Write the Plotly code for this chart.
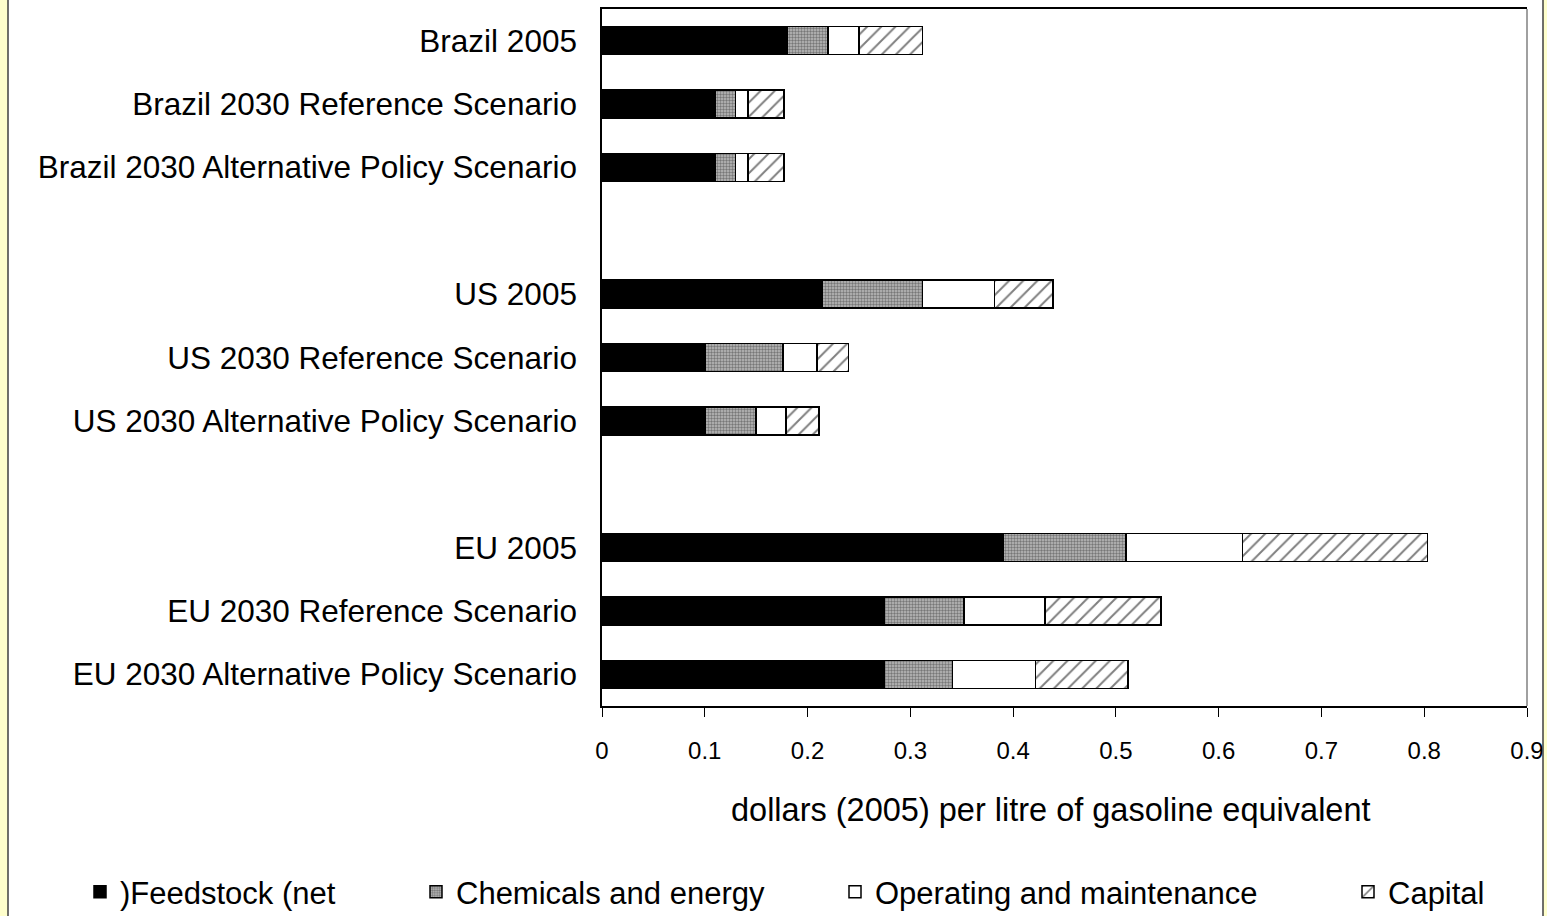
import plotly.graph_objects as go

# Production cost of ethanol, dollars (2005) per litre of gasoline equivalent
groups = ["Brazil", "US", "EU"]
scenarios = ["2005", "2030 Reference Scenario", "2030 Alternative Policy Scenario"]

feedstock = [0.18, 0.11, 0.11, 0.214, 0.10, 0.10, 0.39, 0.275, 0.275]
chemicals = [0.04, 0.02, 0.02, 0.098, 0.076, 0.05, 0.12, 0.077, 0.066]
operating = [0.03, 0.012, 0.012, 0.07, 0.033, 0.029, 0.113, 0.079, 0.081]
capital = [0.062, 0.035, 0.035, 0.057, 0.031, 0.032, 0.18, 0.113, 0.09]

series_names = [")Feedstock (net", "Chemicals and energy", "Operating and maintenance", "Capital"]
x_ticks = [0, 0.1, 0.2, 0.3, 0.4, 0.5, 0.6, 0.7, 0.8, 0.9]
x_tick_text = ["0", "0.1", "0.2", "0.3", "0.4", "0.5", "0.6", "0.7", "0.8", "0.9"]
x_title = "dollars (2005) per litre of gasoline equivalent"

labels = [f"{g} {s}" for g in groups for s in scenarios]
# one empty slot between country groups
slots = [gi * (len(scenarios) + 1) + si for gi in range(len(groups)) for si in range(len(scenarios))]

W, H = 1547, 916
L, R, T, B = 602, 20, 9, 210
pw, ph = W - L - R, H - T - B


def px_x(p):
    return (p - L) / pw


def px_y(q):
    return (H - B - q) / ph


FONT = "Liberation Sans, Arial, sans-serif"
line = dict(color="black", width=1.5)

styles = [
    dict(color="black", line=line),
    dict(color="#999999", line=line,
         pattern=dict(shape=".", size=3, solidity=0.5, fgcolor="#333333", bgcolor="#bbbbbb")),
    dict(color="white", line=line),
    dict(color="white", line=line,
         pattern=dict(shape="/", size=10, solidity=0.2, fgcolor="black", bgcolor="white")),
]

fig = go.Figure()
for i, (name, vals) in enumerate(zip(series_names, [feedstock, chemicals, operating, capital])):
    fig.add_trace(go.Bar(
        y=slots, x=vals, name=name, orientation="h", width=0.44,
        marker=styles[i], legend="legend" if i == 0 else f"legend{i + 1}",
    ))

legend_px = [80, 416, 835, 1348]
legend_common = dict(orientation="h", yanchor="middle", xanchor="left",
                     y=px_y(892), bgcolor="rgba(0,0,0,0)",
                     font=dict(family=FONT, size=31, color="black"))
leg = {}
for i, p in enumerate(legend_px):
    key = "legend" if i == 0 else f"legend{i + 1}"
    leg[key] = dict(x=px_x(p), **legend_common)

fig.update_layout(
    width=W, height=H,
    margin=dict(l=L, r=R, t=T, b=B, autoexpand=False),
    barmode="stack",
    paper_bgcolor="white", plot_bgcolor="white",
    font=dict(family=FONT, color="black"),
    showlegend=True,
    **leg,
    xaxis=dict(
        range=[0, 0.9], tickvals=x_ticks, ticktext=x_tick_text,
        showgrid=False, zeroline=False,
        showline=True, linecolor="black", linewidth=1.5, mirror=True,
        ticks="outside", ticklen=9, tickcolor="black", tickwidth=1.2,
        tickfont=dict(family=FONT, size=24, color="black"),
        ticklabelstandoff=13,
    ),
    yaxis=dict(
        range=[len(slots) + len(groups) - 1.5, -0.5],
        tickvals=slots, ticktext=labels,
        showgrid=False, zeroline=False,
        showline=True, linecolor="black", linewidth=1.5,
        ticks="", ticklabelstandoff=17,
        tickfont=dict(family=FONT, size=31.5, color="black"),
    ),
    annotations=[dict(
        text=x_title, xref="paper", yref="paper", x=px_x(1051), y=px_y(810),
        xanchor="center", yanchor="middle", showarrow=False,
        font=dict(family=FONT, size=32.5, color="black"),
    )],
    shapes=[
        # right edge of the plot area
        dict(type="line", xref="paper", yref="paper", x0=1, x1=1, y0=0, y1=1,
             line=dict(color="#808080", width=1.5)),
        # pale yellow page frame
        dict(type="rect", xref="paper", yref="paper", x0=px_x(0), x1=px_x(8),
             y0=px_y(H), y1=px_y(0), fillcolor="#FFFFCC", line=dict(width=0), layer="below"),
        dict(type="rect", xref="paper", yref="paper", x0=px_x(1543), x1=px_x(W),
             y0=px_y(H), y1=px_y(0), fillcolor="#FFFFCC", line=dict(width=0), layer="below"),
        dict(type="line", xref="paper", yref="paper", x0=px_x(8), x1=px_x(8),
             y0=px_y(H), y1=px_y(0), line=dict(color="#404040", width=1.5)),
        dict(type="line", xref="paper", yref="paper", x0=px_x(1543), x1=px_x(1543),
             y0=px_y(H), y1=px_y(0), line=dict(color="#404040", width=1.5)),
    ],
)

fig.write_html("out.html")
